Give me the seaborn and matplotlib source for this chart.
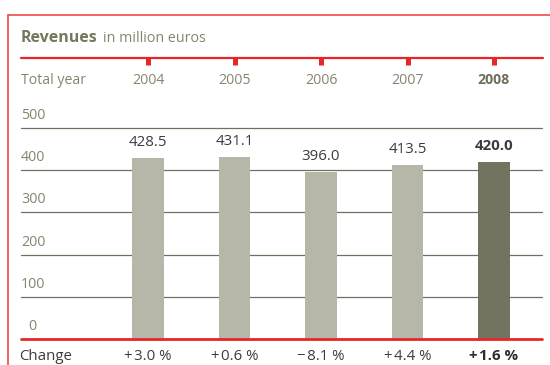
import matplotlib
matplotlib.use("Agg")
import matplotlib.pyplot as plt
import matplotlib.transforms as mtransforms
import seaborn as sns
import pandas as pd

years = ["2004", "2005", "2006", "2007", "2008"]
revenues = [428.5, 431.1, 396.0, 413.5, 420.0]
value_labels = ["428.5", "431.1", "396.0", "413.5", "420.0"]
changes = ["+3.0\u2009%", "+0.6\u2009%", "\u22128.1\u2009%", "+4.4\u2009%", "+1.6\u2009%"]
y_ticks = [0, 100, 200, 300, 400, 500]

sns.set_theme(style="white")
plt.rcParams["font.family"] = ["Open Sans", "DejaVu Sans"]

W, H = 550, 365
fig = plt.figure(figsize=(W / 100, H / 100), dpi=100)

def fx(px):
    return px / W

def fy(py):
    return 1 - py / H

RED = "#e8262a"
LIGHT = "#b6b7a8"
DARK = "#747360"
GRID = "#707060"
AXTXT = "#85856f"
VALTXT = "#3c3c3c"

left_px, right_px = 21, 542
top_px, bottom_px = 128, 339
ax = fig.add_axes([fx(left_px), fy(bottom_px), fx(right_px) - fx(left_px), fy(top_px) - fy(bottom_px)])

df = pd.DataFrame({"year": years, "revenue": revenues})
palette = {y: (DARK if y == "2008" else LIGHT) for y in years}
sns.barplot(data=df, x="year", y="revenue", hue="year", palette=palette,
            width=0.36, legend=False, ax=ax, saturation=1, linewidth=0, zorder=2)

x0 = (left_px - 148) / 86.5
x1 = (right_px - 148) / 86.5
ax.set_xlim(x0, x1)
ax.set_ylim(0, 500)
ax.set_axis_off()

for v in y_ticks:
    if v == 0:
        ax.axhline(0, color=RED, lw=2.0, zorder=3, clip_on=False)
    else:
        ax.axhline(v, color=GRID, lw=0.9, zorder=0, clip_on=False)
    ax.annotate(str(v), xy=(x0, v), xytext=(0 if v else 5, 9), textcoords="offset points",
                ha="left", va="center", fontsize=10.3, color=AXTXT)

for i, (v, lab) in enumerate(zip(revenues, value_labels)):
    bold = years[i] == "2008"
    ax.annotate(lab, xy=(i, v), xytext=(0, 11), textcoords="offset points",
                ha="center", va="center", fontsize=10.8, color=VALTXT,
                fontweight="bold" if bold else "normal")

# header line & ticks
tr = mtransforms.blended_transform_factory(ax.transData, fig.transFigure)
fig.add_artist(plt.Line2D([fx(21), fx(543)], [fy(58), fy(58)], color=RED, lw=1.6,
                          transform=fig.transFigure))
for i in range(len(years)):
    ax.plot([i, i], [fy(58), fy(65)], color=RED, lw=3.6, solid_capstyle="butt",
            transform=tr, clip_on=False)
    bold = years[i] == "2008"
    ax.text(i, fy(80), years[i], transform=tr, ha="center", va="center", fontsize=10.2,
            color="#6f6f5c" if bold else AXTXT, fontweight="bold" if bold else "normal")
    ax.text(i, fy(356), changes[i].replace("\u2009", " ").replace("+", "+\u200a").replace("\u2212", "\u2212\u200a"),
            transform=tr, ha="center", va="center", fontsize=10.8,
            color="#2e2e2e" if bold else VALTXT, fontweight="bold" if bold else "normal")

fig.text(fx(21), fy(80), "Total year", ha="left", va="center", fontsize=10.2, color=AXTXT)
fig.text(fx(19), fy(356), "Change", ha="left", va="center", fontsize=10.8, color=VALTXT)

# title
t = fig.text(fx(21), fy(38), "Revenues", ha="left", va="center", fontsize=11.5,
             fontweight="bold", color="#77775f")
fig.canvas.draw()
bb = t.get_window_extent()
fig.text(bb.x1 / W + fx(5), fy(38), "in million euros", ha="left", va="center",
         fontsize=10.3, color=AXTXT)

# frame
fig.add_artist(plt.Line2D([fx(8), 1.0], [fy(15), fy(15)], color="#ef4a4a", lw=1.2,
                          transform=fig.transFigure))
fig.add_artist(plt.Line2D([fx(8), fx(8)], [fy(15), 0.0], color="#ef4a4a", lw=1.2,
                          transform=fig.transFigure))

fig.savefig("out.png", dpi=100)
